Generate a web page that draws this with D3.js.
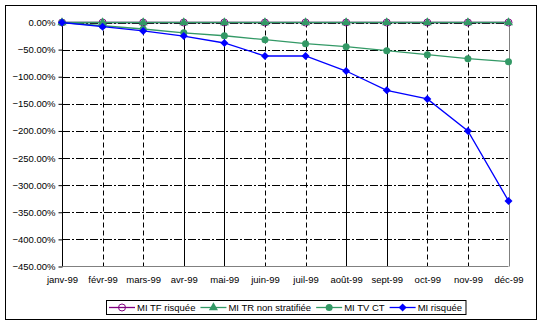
<!DOCTYPE html>
<html><head><meta charset="utf-8">
<script src="https://cdn.jsdelivr.net/npm/d3@7"></script>
<style>body{margin:0;background:#fff}svg{display:block}text{font-family:"Liberation Sans",Arial,sans-serif;font-size:9.5px;fill:#000}</style>
</head><body><svg id="c" width="543" height="326"></svg>
<script>
const categories = ["janv-99","févr-99","mars-99","avr-99","mai-99","juin-99","juil-99","août-99","sept-99","oct-99","nov-99","déc-99"];
const tfRisquee = [0,0,0,0,0,0,0,0,0,0,0,0];
const trNonStrat = [0,0,0,0,0,0,0,0,0,0,0,0];
const tvCT = [0,-6,-12,-19,-24.4,-31.7,-39,-44.6,-52,-59.4,-66.8,-72.3];
const miRisquee = [0,-7.7,-15.5,-25,-37.8,-61.8,-61.8,-89.5,-125,-141,-200,-329];
const yTicks = [0,-50,-100,-150,-200,-250,-300,-350,-400,-450];
const seriesNames = ["MI TF risquée","MI TR non stratifiée","MI TV CT","MI risquée"];

const svg = d3.select("#c");
svg.append("rect").attr("x",5.5).attr("y",5.5).attr("width",531).attr("height",314).attr("fill","#fff").attr("stroke","#000").attr("stroke-width",1);

const x = d3.scalePoint().domain(categories).range([62,508.5]);
const y = d3.scaleLinear().domain([-450,0]).range([266.5,22.5]);

// horizontal gridlines
const g = svg.append("g");
yTicks.filter(t=>t>-450).forEach(t=>{
  g.append("line").attr("x1",62).attr("x2",508.5).attr("y1",Math.round(y(t))+0.5).attr("y2",Math.round(y(t))+0.5)
   .attr("stroke","#000").attr("stroke-dasharray","8,2,2,2");
});
// vertical gridlines
const solidIdx = new Set([0,3,4,7,8]);
categories.forEach((c,i)=>{
  const xx = Math.round(x(c))+0.5;
  const ln = g.append("line").attr("x1",xx).attr("x2",xx).attr("y1",22.5).attr("y2",266.5);
  if(i===categories.length-1) ln.attr("stroke","#808080");
  else if(solidIdx.has(i)) ln.attr("stroke","#000");
  else ln.attr("stroke","#000").attr("stroke-dasharray","5,3");
});
// x axis line
g.append("line").attr("x1",62).attr("x2",508.5).attr("y1",266.5).attr("y2",266.5).attr("stroke","#808080");

// y axis
const yAxis = d3.axisLeft(y).tickValues(yTicks).tickSize(4).tickPadding(3).tickFormat(d=>d3.format(".2f")(d)+"%");
const ya = svg.append("g").attr("transform","translate(62.5,0)").call(yAxis);
ya.select(".domain").remove();
ya.selectAll(".tick line").attr("stroke","#000");
ya.selectAll("text").style("font-family","'Liberation Sans',Arial,sans-serif").style("font-size","9.5px").attr("fill","#000");

// x labels
const xAxis = d3.axisBottom(x).tickSize(0).tickPadding(10);
const xa = svg.append("g").attr("transform","translate(0,266.5)").call(xAxis);
xa.select(".domain").remove();
xa.selectAll("text").style("font-family","'Liberation Sans',Arial,sans-serif").style("font-size","9.5px").attr("fill","#000");

const line = d3.line().x((d,i)=>x(categories[i])).y(d=>y(d));
const purple="#800080", green="#339966", blue="#0000ff";

function marker(sel, type, color){
  if(type==="ocircle") sel.append("circle").attr("r",3.5).attr("fill","none").attr("stroke",color).attr("stroke-width",1);
  else if(type==="tri") sel.append("path").attr("d",d3.symbol(d3.symbolTriangle,36)()).attr("fill",color);
  else if(type==="circle") sel.append("circle").attr("r",3.5).attr("fill",color);
  else if(type==="diamond") sel.append("path").attr("d","M0,-4L4,0L0,4L-4,0Z").attr("fill",color);
}
const series = [
  {name:seriesNames[0],data:tfRisquee,color:purple,m:"ocircle"},
  {name:seriesNames[1],data:trNonStrat,color:green,m:"tri"},
  {name:seriesNames[2],data:tvCT,color:green,m:"circle"},
  {name:seriesNames[3],data:miRisquee,color:blue,m:"diamond"}
];
series.forEach(s=>{
  svg.append("path").attr("d",line(s.data)).attr("fill","none").attr("stroke",s.color).attr("stroke-width",1.3);
  s.data.forEach((v,i)=>{
    const gg = svg.append("g").attr("transform",`translate(${x(categories[i])},${y(v)})`);
    marker(gg,s.m,s.color);
  });
});

// legend
const lg = svg.append("g");
const box = lg.append("rect").attr("x",106.5).attr("y",300.5).attr("height",14).attr("fill","#fff").attr("stroke","#000");
let cx = 109;
series.forEach(s=>{
  lg.append("line").attr("x1",cx).attr("x2",cx+26).attr("y1",307.5).attr("y2",307.5).attr("stroke",s.color).attr("stroke-width",1.3);
  const mg = lg.append("g").attr("transform",`translate(${cx+13},307.5)`);
  marker(mg,s.m,s.color);
  const t = lg.append("text").attr("x",cx+28).attr("y",311).text(s.name);
  cx += 28 + t.node().getComputedTextLength() + 5;
});
box.attr("width",cx-106.5-1);
</script></body></html>
